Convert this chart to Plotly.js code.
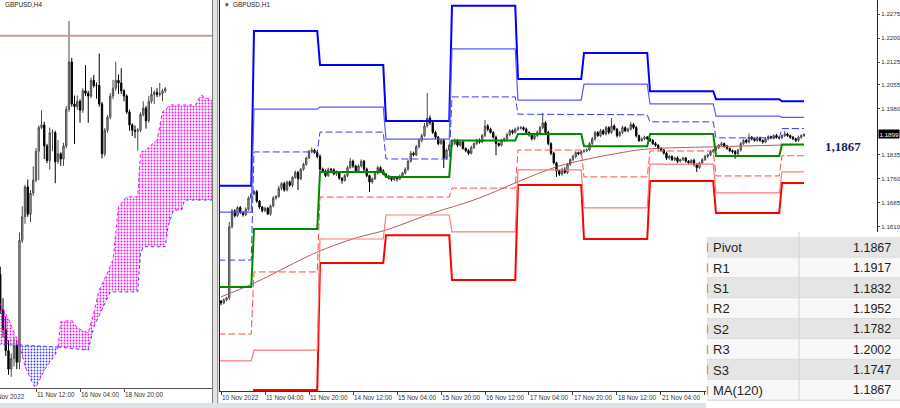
<!DOCTYPE html>
<html><head><meta charset="utf-8">
<script src="https://cdn.plot.ly/plotly-3.0.1.min.js"></script>
<style>html,body{margin:0;padding:0;background:#fff;overflow:hidden}#chart{width:900px;height:408px}</style>
</head><body><div id="chart"></div>
<script>
// ---------------- H1 (right panel) candles: bar index 0 = 10 Nov 2022 12:00 ----------------
const h1FirstOpen = 1.1378;
const h1Close = [
1.1372,1.1382,1.1388,1.1610,1.1660,1.1645,1.1670,1.1655,1.1648,1.1665,
1.1700,1.1712,1.1720,1.1690,1.1672,1.1660,1.1668,1.1650,1.1675,1.1700,
1.1705,1.1730,1.1745,1.1725,1.1750,1.1740,1.1765,1.1780,1.1760,1.1790,
1.1805,1.1825,1.1845,1.1850,1.1842,1.1830,1.1790,1.1785,1.1770,1.1790,
1.1788,1.1775,1.1780,1.1762,1.1755,1.1770,1.1795,1.1815,1.1800,1.1785,
1.1800,1.1815,1.1790,1.1770,1.1750,1.1760,1.1778,1.1795,1.1785,1.1775,
1.1768,1.1762,1.1758,1.1765,1.1760,1.1768,1.1778,1.1790,1.1815,1.1840,
1.1835,1.1860,1.1880,1.1895,1.1925,1.1950,1.1935,1.1905,1.1890,1.1870,
1.1880,1.1825,1.1850,1.1865,1.1870,1.1880,1.1865,1.1875,1.1855,1.1848,
1.1840,1.1858,1.1870,1.1880,1.1875,1.1895,1.1925,1.1915,1.1905,1.1890,
1.1870,1.1865,1.1880,1.1885,1.1898,1.1910,1.1905,1.1915,1.1918,1.1920,
1.1915,1.1905,1.1898,1.1885,1.1895,1.1905,1.1920,1.1935,1.1905,1.1870,
1.1840,1.1810,1.1785,1.1775,1.1790,1.1780,1.1805,1.1820,1.1830,1.1842,
1.1838,1.1845,1.1848,1.1850,1.1870,1.1885,1.1905,1.1895,1.1910,1.1900,
1.1920,1.1905,1.1925,1.1915,1.1895,1.1905,1.1920,1.1910,1.1915,1.1930,
1.1920,1.1895,1.1880,1.1885,1.1890,1.1885,1.1880,1.1870,1.1865,1.1855,
1.1850,1.1840,1.1825,1.1830,1.1820,1.1825,1.1815,1.1820,1.1825,1.1815,
1.1810,1.1818,1.1805,1.1795,1.1810,1.1820,1.1830,1.1835,1.1845,1.1850,
1.1858,1.1865,1.1870,1.1862,1.1855,1.1848,1.1845,1.1838,1.1850,1.1870,
1.1880,1.1875,1.1890,1.1885,1.1880,1.1888,1.1880,1.1875,1.1885,1.1892,
1.1888,1.1895,1.1890,1.1888,1.1895,1.1900,1.1895,1.1890,1.1885,1.1880,
1.1890,1.1895,1.1899];
// upper / lower wick lengths in pips
const h1WickUpPips = [
3,4,3,15,6,5,4,5,4,6, 5,4,6,5,4,3,5,4,5,6, 4,8,5,6,4,5,4,6,5,4, 5,4,6,8,4,5,6,5,4,5,
4,5,6,4,3,5,6,10,5,4, 5,6,4,5,3,4,5,6,4,5, 3,4,5,3,4,5,4,6,5,7, 5,6,7,6,10,78,8,6,5,4,
6,6,5,4,5,6,4,5,4,3, 5,6,4,5,6,5,19,6,5,4, 5,4,5,4,6,5,4,5,6,5, 4,5,3,4,5,6,5,31,6,5,
4,5,3,4,5,6,5,4,5,4, 3,4,5,4,5,6,5,4,6,5, 5,4,25,5,4,5,6,4,5,8, 4,5,3,4,5,4,3,4,5,3,
4,3,5,4,3,4,5,3,4,3, 4,3,5,4,3,4,5,4,5,4, 5,4,5,3,4,3,4,5,4,5, 4,5,12,4,3,5,4,3,5,4,
3,4,5,3,4,10,4,3,4,3, 5,4,3];
const h1WickDnPips = [
7,4,5,7,5,6,4,5,6,4, 5,4,3,5,6,5,4,3,5,4, 5,4,6,5,4,5,6,5,35,4, 5,4,3,5,4,6,5,6,5,4,
5,4,6,5,10,4,5,4,6,5, 4,5,6,5,31,5,4,5,6,4, 5,4,6,5,8,4,5,4,5,4, 5,4,5,6,4,5,6,5,6,5,
4,31,5,4,5,4,6,5,4,5, 6,4,5,4,5,4,5,6,4,5, 36,5,4,5,4,5,6,4,5,4, 5,4,6,5,4,5,4,5,6,5,
6,5,19,6,5,4,5,4,5,6, 4,5,4,5,4,5,6,4,5,4, 5,6,4,5,6,4,5,4,5,4, 5,6,5,4,5,4,5,4,5,4,
5,4,6,5,4,5,6,4,5,4, 5,4,6,14,4,5,4,5,4,5, 4,5,4,5,4,5,6,15,4,5, 4,5,4,5,4,5,4,5,4,5,
4,5,4,5,4,5,4,5,4,5, 4,5,4];

// ---------------- H4 bars before the H1 data (index 0 = 11 Nov 12:00) ----------------
const h4PreIndex = [-13,-12,-11,-10,-9,-8,-7];
const h4PreOpen  = [1.1545,1.1478,1.1440,1.1400,1.1365,1.1385,1.1410];
const h4PreHigh  = [1.1560,1.1500,1.1465,1.1420,1.1395,1.1425,1.1420];
const h4PreLow   = [1.1470,1.1425,1.1390,1.1354,1.1350,1.1370,1.1365];
const h4PreClose = [1.1478,1.1440,1.1400,1.1365,1.1385,1.1410,1.1378];

// ---------------- Daily pivot levels (10,11,14,15,16,17,18,21,22,23 Nov) ----------------
const dayStartBar = [-1,12,36,60,84,108,132,156,180,204];
const dayEndBar   = [11,35,59,83,107,131,155,179,203,212];
const R3 = [1.1738,1.2222,1.2116,1.1941,1.2301,1.2072,1.2153,1.2034,1.2009,1.2002];
const R2 = [1.1656,1.1978,1.1984,1.1884,1.2166,1.2006,1.2056,1.1994,1.1956,1.1952];
const R1 = [1.1506,1.1844,1.1906,1.1822,1.2016,1.1962,1.1960,1.1938,1.1888,1.1917];
const PP = [1.1422,1.1603,1.1781,1.1766,1.1880,1.1900,1.1862,1.1900,1.1831,1.1867];
const S1 = [1.1275,1.1469,1.1703,1.1703,1.1731,1.1850,1.1766,1.1847,1.1769,1.1832];
const S2 = [1.1191,1.1225,1.1572,1.1647,1.1594,1.1788,1.1669,1.1806,1.1716,1.1782];
const S3 = [1.1049,1.1100,1.1497,1.1584,1.1444,1.1741,1.1572,1.1753,1.1653,1.1747];

// MA(120) on H1
const maBar   = [0,12,35,49,60,77,92,107,114,123,132,145,155,179,212];
const maValue = [1.1391,1.1434,1.1531,1.1575,1.1600,1.1653,1.1694,1.1747,1.1772,1.1800,1.1819,1.1841,1.1853,1.1860,1.1867];

// ---------------- Ichimoku cloud (H4) ----------------
const spanABar = [-14,-10,-6,-4,-1,0,3,7,8,9,13,15,19,21,23,26,28,30,33,37,38,40,42,44,46,49,58,60,62,64];
const spanA    = [1.1500,1.1460,1.1411,1.1370,1.1335,1.1330,1.1363,1.1392,1.1407,1.1455,1.1458,1.1443,1.1434,1.1472,1.1516,1.1548,1.1573,1.1674,1.1693,1.1693,1.1778,1.1782,1.1792,1.1801,1.1855,1.1868,1.1868,1.1887,1.1881,1.1878];
const spanBBar = [-14,-6,8,19,21,24,27,37,38,39,47,48,50,53,54,64];
const spanB    = [1.1411,1.1411,1.1407,1.1401,1.1445,1.1478,1.1512,1.1512,1.1586,1.1598,1.1598,1.1636,1.1668,1.1668,1.1687,1.1687];
const h4Level = 1.2000;

// ---------------- Axis labels / texts ----------------
const h1TickBars = [0,16,32,48,64,80,96,112,128,144,160,176];
const h1TickText = ['10 Nov 2022','11 Nov 04:00','11 Nov 20:00','14 Nov 12:00','15 Nov 04:00','15 Nov 20:00','16 Nov 12:00','17 Nov 04:00','17 Nov 20:00','18 Nov 12:00','21 Nov 04:00','21 Nov 20:00'];
const h4TickBars = [0,16,32];
const h4TickText = ['11 Nov 12:00','16 Nov 04:00','18 Nov 20:00'];
const priceTicks = [1.2275,1.2200,1.2125,1.2055,1.1980,1.1835,1.1760,1.1685,1.1610];
const priceTickText = ['1.2275','1.2200','1.2125','1.2055','1.1980','1.1835','1.1760','1.1685','1.1610'];
const lastPrice = 1.1899;
const pivotText = '1,1867';
const tableLabels = ['Pivot','R1','S1','R2','S2','R3','S3','MA(120)'];
const tableValues = ['1.1867','1.1917','1.1832','1.1952','1.1782','1.2002','1.1747','1.1867'];

// ================= build =================
const W = 900, H = 408;
const PX = x => x / W, PY = y => 1 - y / H;
const SMALL = 'Liberation Sans, Arial, sans-serif';

const h1x = [], h1o = [], h1h = [], h1l = [], h1c = [];
for (let i = 0; i < h1Close.length; i++) {
  const o = i === 0 ? h1FirstOpen : h1Close[i - 1];
  const c = h1Close[i];
  h1x.push(i); h1o.push(o); h1c.push(c);
  h1h.push(Math.max(o, c) + h1WickUpPips[i] / 10000);
  h1l.push(Math.min(o, c) - h1WickDnPips[i] / 10000);
}
// aggregate H1 into H4 bars
const h4x = h4PreIndex.slice(), h4o = h4PreOpen.slice(), h4h = h4PreHigh.slice(), h4l = h4PreLow.slice(), h4c = h4PreClose.slice();
for (let s = 0; s < h1x.length; s += 4) {
  const e = Math.min(s + 4, h1x.length);
  h4x.push(-6 + s / 4);
  h4o.push(h1o[s]); h4c.push(h1c[e - 1]);
  h4h.push(Math.max(...h1h.slice(s, e)));
  h4l.push(Math.min(...h1l.slice(s, e)));
}

const traces = [];
// Ichimoku cloud segments
function seg(bars, vals, a, b) {
  const x = [], y = [];
  bars.forEach((v, k) => { if (v >= a && v <= b) { x.push(v); y.push(vals[k]); } });
  return {x, y};
}
[[-14, -6, '#ff00ff'], [-6, 8, '#3a3aff'], [8, 64, '#ff00ff']].forEach(([a, b, col]) => {
  const sb = seg(spanBBar, spanB, a, b), sa = seg(spanABar, spanA, a, b);
  traces.push({type: 'scatter', mode: 'lines', x: sb.x, y: sb.y, xaxis: 'x', yaxis: 'y',
    line: {color: '#3a3aff', width: 1, dash: 'dot'}, hoverinfo: 'skip', showlegend: false});
  traces.push({type: 'scatter', mode: 'lines', x: sa.x, y: sa.y, xaxis: 'x', yaxis: 'y', fill: 'tonexty',
    fillcolor: 'rgba(0,0,0,0)',
    fillpattern: {shape: '.', fgcolor: col, bgcolor: 'rgba(0,0,0,0)', size: 3, solidity: 0.3},
    line: {color: '#ff00ff', width: 1, dash: 'dot'}, hoverinfo: 'skip', showlegend: false});
});
traces.push({type: 'scatter', mode: 'lines', x: [-14, 65], y: [h4Level, h4Level], xaxis: 'x', yaxis: 'y',
  line: {color: '#c99a98', width: 2}, hoverinfo: 'skip', showlegend: false});
const candleStyle = {
  increasing: {line: {color: '#4a4a4a', width: 1}, fillcolor: '#b4b4b4'},
  decreasing: {line: {color: '#000', width: 1}, fillcolor: '#000'},
  hoverinfo: 'skip', showlegend: false};
traces.push(Object.assign({type: 'candlestick', x: h4x, open: h4o, high: h4h, low: h4l, close: h4c, xaxis: 'x', yaxis: 'y'}, candleStyle));

// Right panel: MA, pivots
traces.push({type: 'scatter', mode: 'lines', x: maBar, y: maValue, xaxis: 'x2', yaxis: 'y2',
  line: {color: '#b85a5a', width: 1, shape: 'spline'}, hoverinfo: 'skip', showlegend: false});
function level(vals, color, width, dash) {
  const x = [], y = [];
  vals.forEach((v, d) => { x.push(dayStartBar[d], dayEndBar[d]); y.push(v, v); });
  traces.push({type: 'scatter', mode: 'lines', x, y, xaxis: 'x2', yaxis: 'y2',
    line: {color, width, dash: dash || 'solid'}, hoverinfo: 'skip', showlegend: false});
}
level(S3, '#ff0000', 2);
level(S2, '#ff7a7a', 1.2);
level(S1, '#ff4a4a', 1, '7px,3px');
level(R3, '#0000ff', 2);
level(R2, '#5a5aff', 1.2);
level(R1, '#3a3aff', 1, '7px,3px');
level(PP, '#008a00', 2);
traces.push(Object.assign({type: 'candlestick', x: h1x, open: h1o, high: h1h, low: h1l, close: h1c, xaxis: 'x2', yaxis: 'y2'}, candleStyle));

// ---------------- shapes & annotations ----------------
const shapes = [], annotations = [];
function rect(x0, y0, x1, y1, fill) {
  shapes.push({type: 'rect', xref: 'paper', yref: 'paper', x0: PX(x0), x1: PX(x1), y0: PY(y1), y1: PY(y0),
    fillcolor: fill, line: {width: 0}, layer: 'above'});
}
function seg2(x0, y0, x1, y1, color, w) {
  shapes.push({type: 'line', xref: 'paper', yref: 'paper', x0: PX(x0), x1: PX(x1), y0: PY(y0), y1: PY(y1),
    line: {color, width: w || 1}, layer: 'above'});
}
function text(x, y, t, opt) {
  annotations.push(Object.assign({xref: 'paper', yref: 'paper', x: PX(x), y: PY(y), text: t, showarrow: false,
    xanchor: 'left', yanchor: 'middle', font: {family: SMALL, size: 6.4, color: '#222'}}, opt || {}));
}
// window separator and bottom strip
rect(212, 0, 219, 403, '#e3e3e3');
seg2(212.5, 0, 212.5, 403, '#7c7c7c', 1);
seg2(217.5, 0, 217.5, 403, '#9c9c9c', 1);
rect(0, 403, 706, 408, '#dbe3ec');
// data window table
rect(706, 232, 900, 408, '#ffffff');
const rowTop = 237, rowH = 20.4;
tableLabels.forEach((lab, r) => {
  const t = rowTop + r * rowH;
  rect(707, t, 900, t + rowH, r % 2 === 0 ? '#e5e5e5' : '#f8f8f8');
  seg2(707, t + rowH, 900, t + rowH, '#d2d2d2', 1);
  seg2(707.5, t + 6, 707.5, t + 15, '#d6a21e', 1.3);
  text(711, t + rowH / 2 + 0.5, lab, {font: {family: SMALL, size: 13, color: '#1e1e1e'}});
  text(893, t + rowH / 2 + 0.5, tableValues[r], {xanchor: 'right', font: {family: SMALL, size: 12.5, color: '#1e1e1e'}});
});
seg2(799, 232, 799, 400, '#d2d2d2', 1);
// titles
text(3, 5, 'GBPUSD,H4');
text(223, 5, '\u25BE', {font: {family: 'DejaVu Sans, sans-serif', size: 7, color: '#333'}});
text(231, 5, 'GBPUSD,H1');
// partial first date label of left panel
text(-14, 396, '10 Nov 2022', {font: {family: SMALL, size: 6.4, color: '#333'}});
// pivot value and last price
text(843, 146, pivotText, {xanchor: 'center', font: {family: 'Liberation Serif, Times New Roman, serif', size: 13, color: '#1c1c6e', weight: 'bold'}});
annotations.push({xref: 'paper', yref: 'y2', x: PX(877.5), y: lastPrice, text: '1.1899', showarrow: false,
  xanchor: 'left', yanchor: 'middle', bgcolor: '#000', borderpad: 0.5,
  font: {family: SMALL, size: 6.2, color: '#fff'}});

const axBase = {showgrid: false, zeroline: false, fixedrange: true};
const layout = {
  width: W, height: H, margin: {l: 0, r: 0, t: 0, b: 0, pad: 0},
  paper_bgcolor: '#fff', plot_bgcolor: '#fff', showlegend: false, hovermode: false,
  xaxis: Object.assign({}, axBase, {domain: [0, PX(212)], range: [-13.09, 64], anchor: 'y',
    showline: true, linecolor: '#555', linewidth: 1, ticks: 'outside', ticklen: 3, tickcolor: '#555',
    tickvals: h4TickBars, ticktext: h4TickText, ticklabelposition: 'outside right', tickangle: 0,
    tickfont: {family: SMALL, size: 6.4, color: '#333'}, rangeslider: {visible: false}}),
  yaxis: Object.assign({}, axBase, {domain: [20 / H, 1], range: [1.13289, 1.2068], anchor: 'x',
    side: 'right', showline: false, showticklabels: false, ticks: ''}),
  xaxis2: Object.assign({}, axBase, {domain: [PX(220), PX(877)], range: [-0.364, 238.55], anchor: 'y2',
    showline: true, linecolor: '#333', linewidth: 1, ticks: 'outside', ticklen: 3, tickcolor: '#444',
    tickvals: h1TickBars, ticktext: h1TickText, ticklabelposition: 'outside right', tickangle: 0,
    tickfont: {family: SMALL, size: 6.4, color: '#333'}, rangeslider: {visible: false}}),
  yaxis2: Object.assign({}, axBase, {domain: [17 / H, 1], range: [1.1097, 1.231875], anchor: 'x2',
    side: 'right', showline: true, mirror: true, linecolor: '#222', linewidth: 1, ticks: 'outside', ticklen: 2,
    tickcolor: '#444', tickvals: priceTicks, ticktext: priceTickText,
    tickfont: {family: SMALL, size: 6.2, color: '#333'}}),
  shapes, annotations
};
Plotly.newPlot('chart', traces, layout, {staticPlot: true, displayModeBar: false});
</script></body></html>
